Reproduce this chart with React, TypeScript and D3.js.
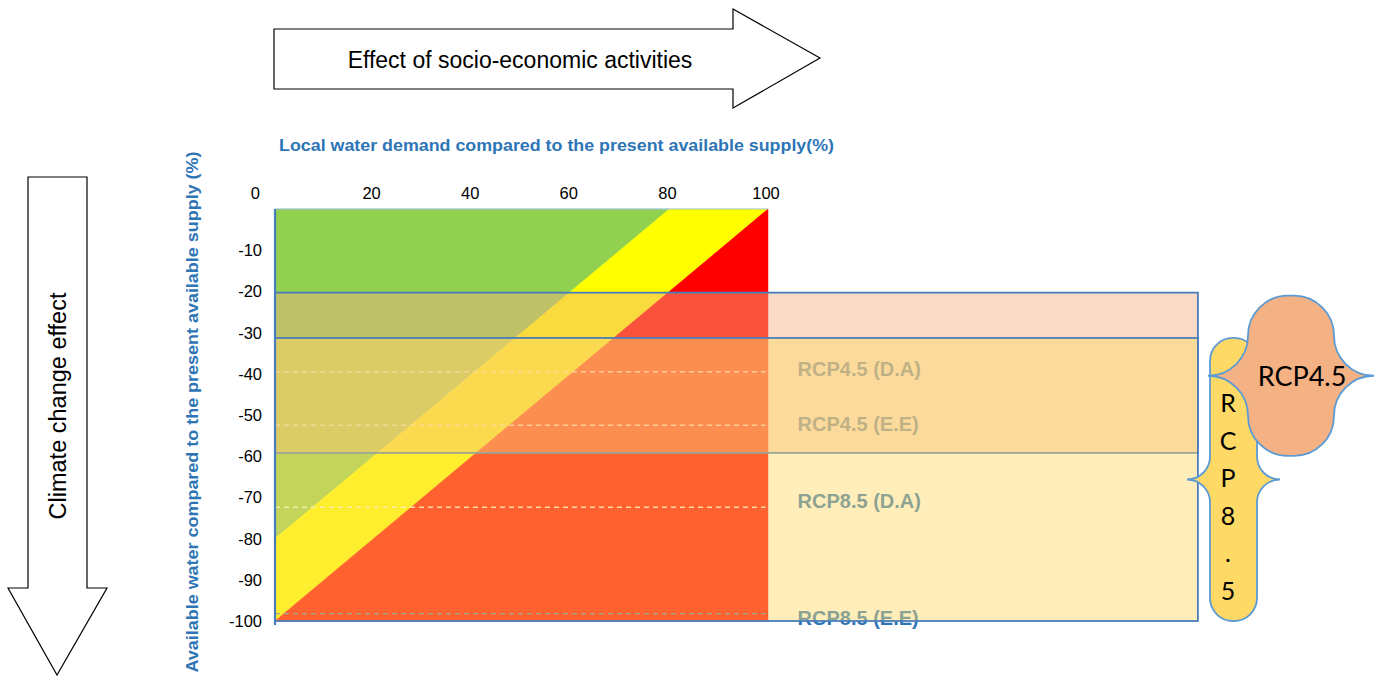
import React from 'react';
import * as d3 from 'd3';

// ---------- data ----------
const xTicks = [20, 40, 60, 80, 100];
const yTicks = [-10, -20, -30, -40, -50, -60, -70, -80, -90, -100];
const originLabel = '0';
// demand (%) at which each zone starts when available water change is 0
const zoneLimits = [80, 100];
const zoneColors = ['#92D050', '#FFFF00', '#FF0000'];
const rcp45Range = [-20.3, -59.2];
const rcp85Range = [-31.3, -100];
const bandRightX = 187.2;
const scenarioNames = ['RCP4.5 (D.A)', 'RCP4.5 (E.E)', 'RCP8.5 (D.A)', 'RCP8.5 (E.E)'];
const scenarioValues = [-39.5, -52.5, -72.4, -98.2];
const scenarioLabelValues = [-38.9, -52.2, -70.9, -99.2];
const braceTexts = ['RCP4.5', 'RCP8.5'];

const xTitle = 'Local water demand compared to the present available supply(%)';
const yTitle = 'Available water compared to the present available supply (%)';
const topArrowText = 'Effect of socio-economic activities';
const leftArrowText = 'Climate change effect';

// ---------- helpers ----------
function doubleBrace(xL: number, xR: number, top: number, bottom: number, r: number) {
  const mid = (top + bottom) / 2;
  return [
    `M${xL + r},${top}`,
    `L${xR - r},${top}`,
    `A${r},${r} 0 0 1 ${xR},${top + r}`,
    `L${xR},${mid - r}`,
    `A${r},${r} 0 0 0 ${xR + r},${mid}`,
    `A${r},${r} 0 0 0 ${xR},${mid + r}`,
    `L${xR},${bottom - r}`,
    `A${r},${r} 0 0 1 ${xR - r},${bottom}`,
    `L${xL + r},${bottom}`,
    `A${r},${r} 0 0 1 ${xL},${bottom - r}`,
    `L${xL},${mid + r}`,
    `A${r},${r} 0 0 0 ${xL - r},${mid}`,
    `A${r},${r} 0 0 0 ${xL},${mid - r}`,
    `L${xL},${top + r}`,
    `A${r},${r} 0 0 1 ${xL + r},${top}`,
    'Z',
  ].join(' ');
}

export default function App() {
  const W = 1381;
  const H = 676;
  const x = d3.scaleLinear().domain([0, 100]).range([275, 768]);
  const y = d3.scaleLinear().domain([0, -100]).range([209, 621]);

  const [gLim, rLim] = zoneLimits;
  const zones: [number, number][][] = [
    [[0, 0], [gLim, 0], [0, -gLim]],
    [[gLim, 0], [rLim, 0], [0, -rLim], [0, -gLim]],
    [[rLim, 0], [100, -100], [0, -100]],
  ];
  const line = d3
    .line<[number, number]>()
    .x((d) => x(d[0]))
    .y((d) => y(d[1]));

  const sansA = '"Liberation Sans", Arial, sans-serif';
  const sansC = 'Lato, "Open Sans", sans-serif';
  const blue = '#2E75B6';
  const border = '#4A7EBB';

  const b45 = { top: y(rcp45Range[0]), bottom: y(rcp45Range[1]) };
  const b85 = { top: y(rcp85Range[0]), bottom: y(rcp85Range[1]) };

  return (
    <svg
      width={W}
      height={H}
      viewBox={`0 0 ${W} ${H}`}
      style={{ position: 'absolute', left: 0, top: 0, display: 'block', background: '#fff' }}
    >
      {/* top arrow */}
      <path
        d="M274,29 L733,29 L733,9 L820,58 L733,108 L733,89 L274,89 Z"
        fill="#fff"
        stroke="#000"
        strokeWidth={1.2}
      />
      <text x={520} y={60} fontFamily={sansA} fontSize={23} textAnchor="middle" dominantBaseline="central" fill="#000">
        {topArrowText}
      </text>

      {/* left arrow */}
      <path
        d="M28,177 L87,177 L87,588 L107,588 L57,675 L8,588 L28,588 Z"
        fill="#fff"
        stroke="#000"
        strokeWidth={1.2}
      />
      <text
        transform="translate(58,406) rotate(-90)"
        fontFamily={sansA}
        fontSize={23.5}
        textAnchor="middle"
        dominantBaseline="central"
        fill="#000"
      >
        {leftArrowText}
      </text>

      {/* titles */}
      <text
        x={556.5}
        y={151}
        fontFamily={sansA}
        fontWeight={700}
        fontSize={16}
        fill={blue}
        textAnchor="middle"
        textLength={555}
        lengthAdjust="spacingAndGlyphs"
      >
        {xTitle}
      </text>
      <text
        transform="translate(198,412) rotate(-90)"
        fontFamily={sansA}
        fontWeight={700}
        fontSize={16}
        fill={blue}
        textAnchor="middle"
        textLength={521}
        lengthAdjust="spacingAndGlyphs"
      >
        {yTitle}
      </text>

      {/* tick labels */}
      {xTicks.map((t) => (
        <text key={'x' + t} x={x(t) - 2} y={199} fontFamily={sansA} fontSize={16.5} textAnchor="middle" fill="#000">
          {t}
        </text>
      ))}
      <text x={260} y={199} fontFamily={sansA} fontSize={16.5} textAnchor="end" fill="#000">
        {originLabel}
      </text>
      {yTicks.map((t) => (
        <text
          key={'y' + t}
          x={262}
          y={y(t)}
          fontFamily={sansA}
          fontSize={16.5}
          textAnchor="end"
          dominantBaseline="central"
          fill="#000"
        >
          {t}
        </text>
      ))}

      {/* zones */}
      {zones.map((z, i) => (
        <path key={'z' + i} d={line(z) + 'Z'} fill={zoneColors[i]} stroke={zoneColors[i]} strokeWidth={0.5} />
      ))}

      {/* scenario dashed lines (under overlays) */}
      {scenarioValues.slice(0, 3).map((v, i) => (
        <line
          key={'d' + i}
          x1={x(0)}
          x2={x(99.5)}
          y1={y(v)}
          y2={y(v)}
          stroke="#FFFFFF"
          strokeOpacity={0.85}
          strokeWidth={1.4}
          strokeDasharray="5 4"
        />
      ))}

      {/* scenario labels (under overlays) */}
      {scenarioNames.map((n, i) => (
        <text
          key={'l' + i}
          x={x(106)}
          y={y(scenarioLabelValues[i])}
          fontFamily={sansA}
          fontWeight={700}
          fontSize={20}
          fill={blue}
          dominantBaseline="central"
        >
          {n}
        </text>
      ))}

      {/* plot frame */}
      <line x1={x(0)} x2={x(100)} y1={y(0)} y2={y(0)} stroke="#9DC3E6" strokeWidth={1.2} />

      {/* RCP4.5 band */}
      <rect
        x={x(0)}
        y={b45.top}
        width={x(bandRightX) - x(0)}
        height={b45.bottom - b45.top}
        fill="#F4B084"
        fillOpacity={0.46}
        stroke={border}
        strokeWidth={1.8}
      />
      {/* RCP8.5 band */}
      <rect
        x={x(0)}
        y={b85.top}
        width={x(bandRightX) - x(0)}
        height={b85.bottom - b85.top}
        fill="#FFD966"
        fillOpacity={0.45}
        stroke={border}
        strokeWidth={1.8}
      />

      {/* last scenario dashed line (on top) */}
      <line
        x1={x(0)}
        x2={x(99.5)}
        y1={y(scenarioValues[3])}
        y2={y(scenarioValues[3])}
        stroke="#A5A98F"
        strokeWidth={1.4}
        strokeDasharray="5 4"
      />

      {/* y axis line */}
      <line x1={x(0)} x2={x(0)} y1={y(0)} y2={y(-100) + 4} stroke={border} strokeWidth={2.2} />

      {/* RCP8.5 brace */}
      <path
        d={doubleBrace(1210, 1257, b85.top, b85.bottom, 23)}
        fill="#FFD966"
        stroke="#5B9BD5"
        strokeWidth={1.8}
      />
      {braceTexts[1].split('').map((c, i) => (
        <text
          key={'c' + i}
          x={1228}
          y={402 + i * 37.6}
          fontFamily={sansC}
          fontSize={25}
          textAnchor="middle"
          dominantBaseline="central"
          fill="#000"
        >
          {c}
        </text>
      ))}

      {/* RCP4.5 brace */}
      <path
        d={doubleBrace(1248, 1334, b45.top + 3, b45.bottom + 3, 40)}
        fill="#F4B183"
        stroke="#5B9BD5"
        strokeWidth={1.8}
      />
      <text
        x={1302}
        y={(b45.top + b45.bottom) / 2 + 3}
        fontFamily={sansC}
        fontSize={27}
        textAnchor="middle"
        dominantBaseline="central"
        fill="#000"
      >
        {braceTexts[0]}
      </text>
    </svg>
  );
}
